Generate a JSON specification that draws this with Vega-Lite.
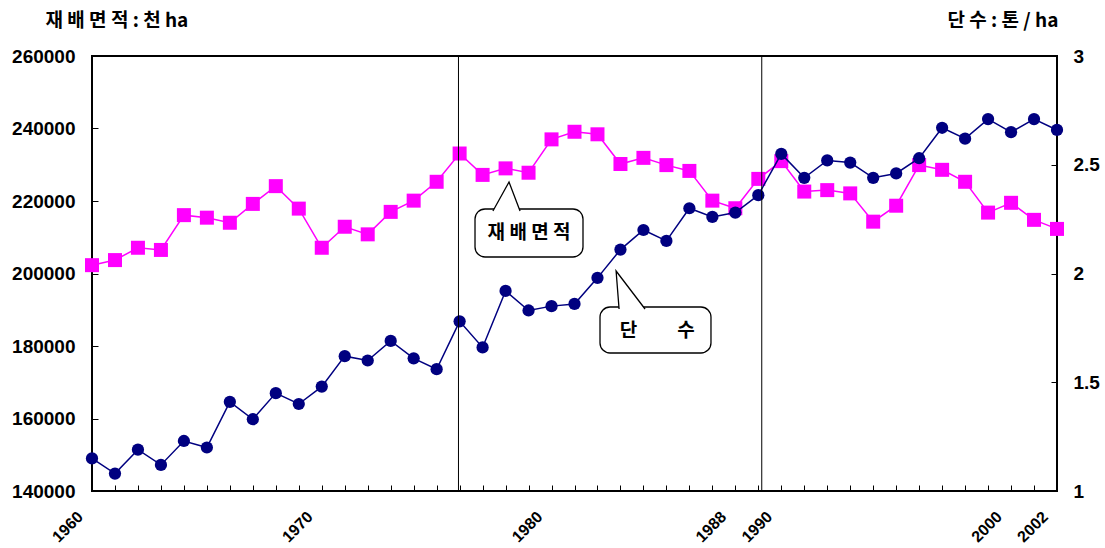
{
  "$schema": "https://vega.github.io/schema/vega-lite/v6.json",
  "width": 965,
  "height": 435,
  "autosize": {"type": "none"},
  "padding": {"left": 92, "top": 56, "right": 48, "bottom": 57},
  "background": "white",
  "config": {
    "font": "Liberation Sans",
    "view": {"stroke": "black", "strokeWidth": 2},
    "axis": {
      "grid": false,
      "domain": false,
      "labelFont": "Liberation Sans",
      "labelFontWeight": "bold",
      "labelColor": "black",
      "tickColor": "black",
      "tickWidth": 1,
      "tickSize": 6,
      "offset": -6,
      "titleFont": "Noto Sans CJK KR",
      "titleFontWeight": "bold",
      "titleColor": "black"
    }
  },
  "datasets": {
    "series": [
      {"year": 1960, "area": 202300, "yield": 1.15},
      {"year": 1961, "area": 203700, "yield": 1.08},
      {"year": 1962, "area": 207100, "yield": 1.19},
      {"year": 1963, "area": 206500, "yield": 1.12},
      {"year": 1964, "area": 216100, "yield": 1.23},
      {"year": 1965, "area": 215400, "yield": 1.2},
      {"year": 1966, "area": 214000, "yield": 1.41},
      {"year": 1967, "area": 219200, "yield": 1.33},
      {"year": 1968, "area": 224100, "yield": 1.45},
      {"year": 1969, "area": 217900, "yield": 1.4},
      {"year": 1970, "area": 207100, "yield": 1.48},
      {"year": 1971, "area": 212900, "yield": 1.62},
      {"year": 1972, "area": 210800, "yield": 1.6},
      {"year": 1973, "area": 217000, "yield": 1.69},
      {"year": 1974, "area": 220100, "yield": 1.61},
      {"year": 1975, "area": 225300, "yield": 1.56},
      {"year": 1976, "area": 233100, "yield": 1.78},
      {"year": 1977, "area": 227200, "yield": 1.66},
      {"year": 1978, "area": 229000, "yield": 1.92},
      {"year": 1979, "area": 227800, "yield": 1.83},
      {"year": 1980, "area": 237000, "yield": 1.85},
      {"year": 1981, "area": 239100, "yield": 1.86},
      {"year": 1982, "area": 238400, "yield": 1.98},
      {"year": 1983, "area": 230200, "yield": 2.11},
      {"year": 1984, "area": 231900, "yield": 2.2},
      {"year": 1985, "area": 229900, "yield": 2.15},
      {"year": 1986, "area": 228300, "yield": 2.3},
      {"year": 1987, "area": 220100, "yield": 2.26},
      {"year": 1988, "area": 218000, "yield": 2.28},
      {"year": 1989, "area": 226100, "yield": 2.36},
      {"year": 1990, "area": 231000, "yield": 2.55},
      {"year": 1991, "area": 222600, "yield": 2.44},
      {"year": 1992, "area": 223000, "yield": 2.52},
      {"year": 1993, "area": 222100, "yield": 2.51},
      {"year": 1994, "area": 214300, "yield": 2.44},
      {"year": 1995, "area": 218700, "yield": 2.46},
      {"year": 1996, "area": 229900, "yield": 2.53},
      {"year": 1997, "area": 228600, "yield": 2.67},
      {"year": 1998, "area": 225300, "yield": 2.62},
      {"year": 1999, "area": 216800, "yield": 2.71},
      {"year": 2000, "area": 219500, "yield": 2.65},
      {"year": 2001, "area": 214800, "yield": 2.71},
      {"year": 2002, "area": 212300, "yield": 2.66}
    ],
    "dividers": [
      {"year": 1975.95},
      {"year": 1989.15}
    ],
    "calloutBoxes": [
      {"id": "area", "year": 1976.67, "x1": 1981.37, "y0": 217800, "y1": 204550},
      {"id": "yield", "year": 1982.11, "x1": 1986.94, "y0": 190760, "y1": 178070}
    ],
    "calloutTails": [
      {"id": "area", "ord": 0, "year": 1977.45, "area": 217240},
      {"id": "area", "ord": 1, "year": 1978.15, "area": 225240},
      {"id": "area", "ord": 2, "year": 1978.63, "area": 217240},
      {"id": "yield", "ord": 0, "year": 1982.94, "area": 190210},
      {"id": "yield", "ord": 1, "year": 1982.81, "area": 200690},
      {"id": "yield", "ord": 2, "year": 1984.07, "area": 190210}
    ],
    "calloutText": [
      {"label": "재 배 면 적", "year": 1979.02, "area": 211170},
      {"label": "단", "year": 1983.35, "area": 184140},
      {"label": "수", "year": 1985.85, "area": 184140}
    ]
  },
  "encoding": {
    "x": {
      "field": "year",
      "type": "quantitative",
      "title": null,
      "scale": {"domain": [1960, 2002], "nice": false, "zero": false},
      "axis": {
        "orient": "bottom",
        "values": [1960, 1961, 1962, 1963, 1964, 1965, 1966, 1967, 1968, 1969, 1970, 1971, 1972, 1973, 1974, 1975, 1976, 1977, 1978, 1979, 1980, 1981, 1982, 1983, 1984, 1985, 1986, 1987, 1988, 1989, 1990, 1991, 1992, 1993, 1994, 1995, 1996, 1997, 1998, 1999, 2000, 2001, 2002],
        "labelExpr": "(datum.value == 1960 || datum.value == 1970 || datum.value == 1980 || datum.value == 1988 || datum.value == 1990 || datum.value == 2000 || datum.value == 2002) ? ('' + datum.value) : ''",
        "labelAngle": -45,
        "labelAlign": "right",
        "labelBaseline": "middle",
        "labelFontSize": 16,
        "labelPadding": 23,
        "labelOffset": -12
      }
    }
  },
  "layer": [
    {
      "data": {"name": "series"},
      "mark": {"type": "line", "color": "#FF00FF", "strokeWidth": 1.5},
      "encoding": {
        "y": {
          "field": "area",
          "type": "quantitative",
          "scale": {"domain": [140000, 260000], "nice": false, "zero": false},
          "axis": {
            "orient": "left",
            "values": [140000, 160000, 180000, 200000, 220000, 240000, 260000],
            "format": "d",
            "labelFontSize": 19,
            "labelPadding": 17,
            "title": "재 배 면 적 : 천 ha",
            "titleFontSize": 19,
            "titleAngle": 0,
            "titleAlign": "left",
            "titleBaseline": "middle",
            "titleX": -53,
            "titleY": -36
          }
        }
      }
    },
    {
      "data": {"name": "series"},
      "mark": {"type": "point", "shape": "square", "filled": true, "size": 196, "color": "#FF00FF", "opacity": 1},
      "encoding": {
        "y": {"field": "area", "type": "quantitative", "scale": {"domain": [140000, 260000], "nice": false, "zero": false}, "axis": null}
      }
    },
    {
      "data": {"name": "calloutBoxes"},
      "mark": {"type": "rect", "fill": "white", "stroke": "black", "strokeWidth": 1.3, "cornerRadius": 10},
      "encoding": {
        "x2": {"field": "x1"},
        "y": {"field": "y0", "type": "quantitative", "scale": {"domain": [140000, 260000], "nice": false, "zero": false}, "axis": null},
        "y2": {"field": "y1"}
      }
    },
    {
      "data": {"name": "calloutTails"},
      "mark": {"type": "line", "fill": "white", "stroke": "black", "strokeWidth": 1.3},
      "encoding": {
        "y": {"field": "area", "type": "quantitative", "scale": {"domain": [140000, 260000], "nice": false, "zero": false}, "axis": null},
        "detail": {"field": "id"},
        "order": {"field": "ord"}
      }
    },
    {
      "data": {"name": "calloutText"},
      "mark": {"type": "text", "font": "Noto Sans CJK KR", "fontWeight": "bold", "fontSize": 19, "color": "black", "align": "center", "baseline": "middle"},
      "encoding": {
        "y": {"field": "area", "type": "quantitative", "scale": {"domain": [140000, 260000], "nice": false, "zero": false}, "axis": null},
        "text": {"field": "label"}
      }
    },
    {
      "data": {"name": "series"},
      "mark": {"type": "line", "color": "#000080", "strokeWidth": 1.5},
      "encoding": {
        "y": {
          "field": "yield",
          "type": "quantitative",
          "scale": {"domain": [1, 3], "nice": false, "zero": false},
          "axis": {
            "orient": "right",
            "values": [1, 1.5, 2, 2.5, 3],
            "labelExpr": "'' + datum.value",
            "labelFontSize": 19,
            "labelPadding": 16,
            "title": "단 수 : 톤 / ha",
            "titleFontSize": 19,
            "titleAngle": 0,
            "titleAlign": "left",
            "titleBaseline": "middle",
            "titleX": -104,
            "titleY": -36
          }
        }
      }
    },
    {
      "data": {"name": "series"},
      "mark": {"type": "point", "shape": "circle", "filled": true, "size": 150, "color": "#000080", "opacity": 1},
      "encoding": {
        "y": {"field": "yield", "type": "quantitative", "scale": {"domain": [1, 3], "nice": false, "zero": false}, "axis": null}
      }
    },
    {
      "data": {"name": "dividers"},
      "mark": {"type": "rule", "color": "black", "strokeWidth": 1},
      "encoding": {}
    }
  ],
  "resolve": {"scale": {"y": "independent"}}
}
